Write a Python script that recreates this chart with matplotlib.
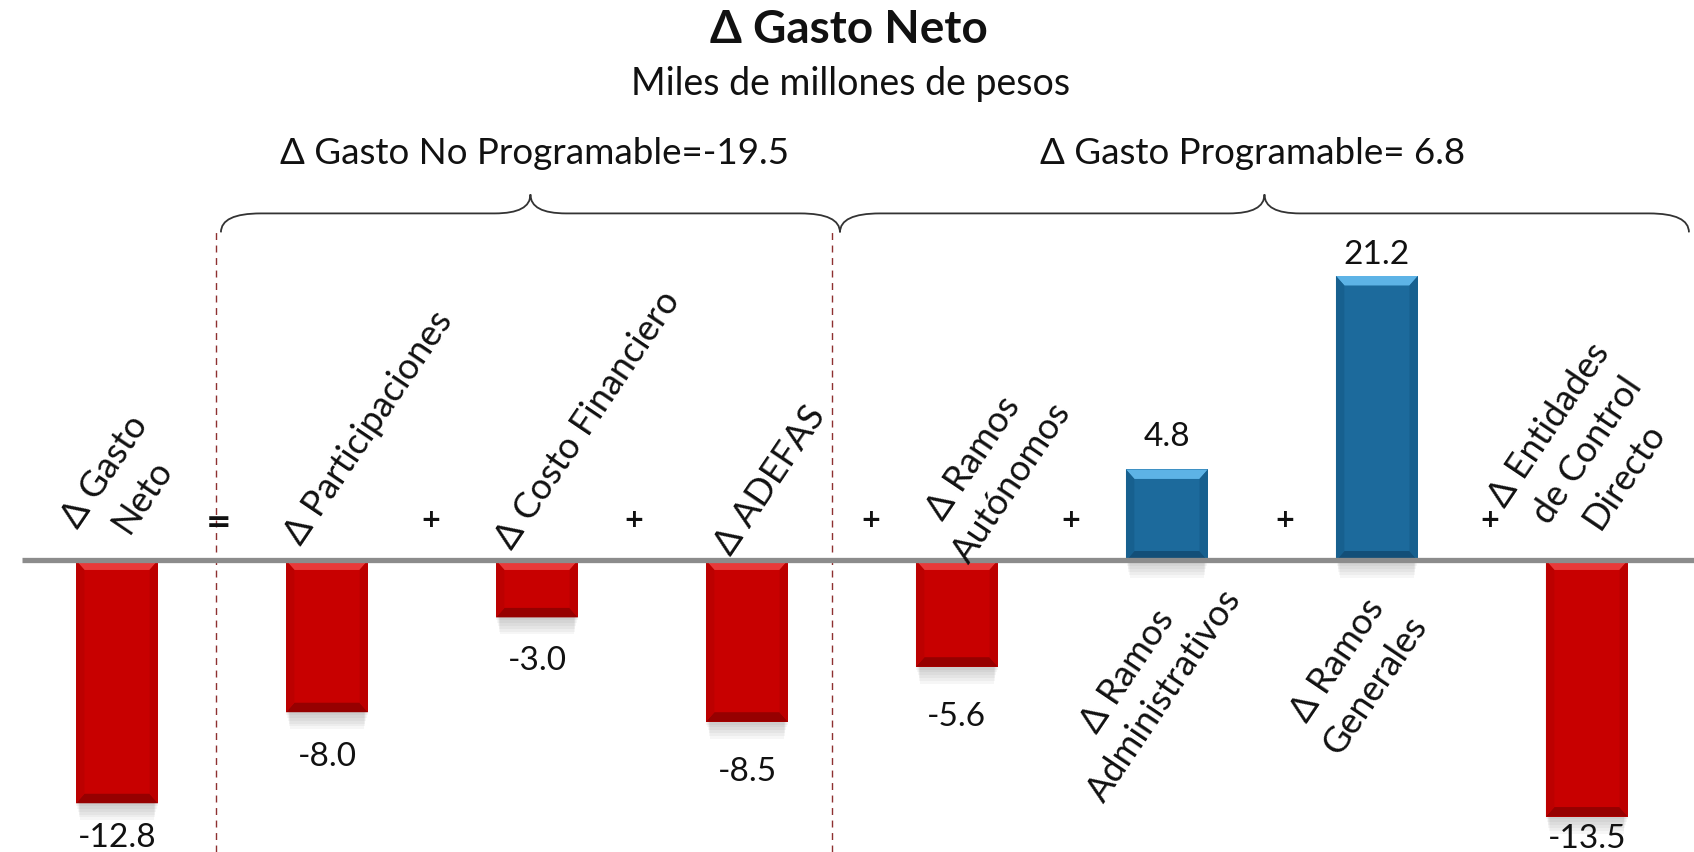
import numpy as np
import matplotlib.pyplot as plt
from matplotlib.patches import Polygon, Rectangle, PathPatch
from matplotlib.path import Path

# data
categories = ['Δ Gasto\nNeto', 'Δ Participaciones', 'Δ Costo Financiero', 'Δ ADEFAS',
              'Δ Ramos\nAutónomos', 'Δ Ramos\nAdministrativos', 'Δ Ramos\nGenerales',
              'Δ Entidades\nde Control\nDirecto']
values = [-12.8, -8.0, -3.0, -8.5, -5.6, 4.8, 21.2, -13.5]
operators = ['=', '+', '+', '+', '+', '+', '+']
group_labels = ['Δ Gasto No Programable=-19.5', 'Δ Gasto Programable= 6.8']
title = 'Δ Gasto Neto'
subtitle = 'Miles de millones de pesos'

# layout (positions of the annotations)
cat_pos = [(0.03, 4.1), (1.2, 7.05), (2.243, 7.47), (3.11, 4.26),
           (4.17, 4.8), (4.9, -6.42), (5.9, -5.84), (7.0, 5.85)]
val_gap = [34, 44, 43, 49, 49, 33, 22, 21]   # px from bar end to label centre
op_pos = [0.486, 1.495, 2.46, 3.59, 4.54, 5.56, 6.54]
divider_x = [0.471, 3.405]
brace_x = [(0.495, 3.443), (3.443, 7.486)]

plt.rcParams['font.family'] = ['Lato', 'DejaVu Sans']
fig = plt.figure(figsize=(16.94, 8.53), dpi=100)
ax = fig.add_axes([0, 0, 1, 576 / 853])
ax.set_xlim(-0.557, 7.51)
ax.set_ylim(-15.37, 15.0)
ax.axis('off')

x = np.arange(len(values))
colors = ['#C80000' if v < 0 else '#1C6A9C' for v in values]
bars = ax.bar(x, values, width=0.39, color=colors, zorder=3)

ymax = ax.get_ylim()[1]
for rect, v in zip(bars, values):
    x0, w = rect.get_x(), rect.get_width()
    x1 = x0 + w
    lo = min(rect.get_y(), rect.get_y() + rect.get_height())
    hi = min(max(rect.get_y(), rect.get_y() + rect.get_height()), ymax)
    if v < 0:
        light, side, dark = '#E83A3A', '#BC0000', '#960000'
    else:
        light, side, dark = '#5DB3E6', '#17608F', '#134F78'
    bx, by = 0.04, 0.5
    # soft shadow
    for k in range(6):
        ax.add_patch(Rectangle((x0 + 0.004 * k, lo - 0.15 * (k + 1)),
                               w - 0.008 * k, 0.15 * (k + 1),
                               color='#505050', alpha=0.05, lw=0, zorder=2))
    ax.add_patch(Polygon([(x0, hi), (x1, hi), (x1 - bx, hi - by), (x0 + bx, hi - by)],
                         color=light, lw=0, zorder=4))
    ax.add_patch(Polygon([(x0, lo), (x1, lo), (x1 - bx, lo + by), (x0 + bx, lo + by)],
                         color=dark, lw=0, zorder=4))
    ax.add_patch(Polygon([(x0, lo), (x0 + bx, lo + by), (x0 + bx, hi - by), (x0, hi)],
                         color=side, lw=0, zorder=4))
    ax.add_patch(Polygon([(x1, lo), (x1 - bx, lo + by), (x1 - bx, hi - by), (x1, hi)],
                         color=side, lw=0, zorder=4))

# value labels
for i, (v, g) in enumerate(zip(values, val_gap)):
    yv = min(v, ymax)
    off = g * 0.72 if v > 0 else -g * 0.72
    ax.annotate(f'{v:.1f}', (i, yv), xytext=(0, off), textcoords='offset points',
                ha='center', va='center', fontsize=24, color='#111111',
                annotation_clip=False, zorder=6)

# category labels
for lab, (cx, cy) in zip(categories, cat_pos):
    ax.text(cx, cy, lab, rotation=56, ha='center', va='center',
            multialignment='center', fontsize=26, color='#111111',
            linespacing=1.45, zorder=6, clip_on=False)

# operators
for op, ox in zip(operators, op_pos):
    ax.text(ox, 2.05 if op == '=' else 2.2, op, ha='center', va='center',
            fontsize=22 if op == '=' else 18, fontweight='bold',
            family='DejaVu Sans', color='#111111', zorder=6)

# zero line
ax.plot([-0.452, 7.51], [0, 0], color='#8C8C8C', lw=3.8, zorder=5,
        solid_capstyle='butt')

# dashed dividers
for dx in divider_x:
    ax.plot([dx, dx], [-15.37, 17.3], color='#8E3030', lw=1.0,
            ls=(0, (5, 4)), zorder=1, clip_on=False)

# braces
def brace(xa, xb, y_end=17.3, y_mid=18.3, y_tip=19.3, r=0.19, rt=0.17):
    tip = (xa + xb) / 2
    verts = [(xa, y_end), (xa, y_mid), (xa + r, y_mid),
             (tip - rt, y_mid),
             (tip, y_mid), (tip, y_tip),
             (tip, y_mid), (tip + rt, y_mid),
             (xb - r, y_mid),
             (xb, y_mid), (xb, y_end)]
    codes = [Path.MOVETO, Path.CURVE3, Path.CURVE3,
             Path.LINETO,
             Path.CURVE3, Path.CURVE3,
             Path.CURVE3, Path.CURVE3,
             Path.LINETO,
             Path.CURVE3, Path.CURVE3]
    ax.add_patch(PathPatch(Path(verts, codes), fill=False, ec='#333333',
                           lw=1.3, clip_on=False, zorder=6))

for xa, xb in brace_x:
    brace(xa, xb)

fig.text(535 / 1694, 1 - 153 / 853, group_labels[0], ha='center', va='center',
         fontsize=26.5, color='#111111')
fig.text(1253 / 1694, 1 - 153 / 853, group_labels[1], ha='center', va='center',
         fontsize=26.5, color='#111111')

fig.text(0.501, 1 - 30 / 853, title, ha='center', va='center',
         fontsize=33, fontweight='bold', color='#111111')
fig.text(0.502, 1 - 84 / 853, subtitle, ha='center', va='center',
         fontsize=27, color='#111111')

fig.savefig('out.png', dpi=100, facecolor='white')
